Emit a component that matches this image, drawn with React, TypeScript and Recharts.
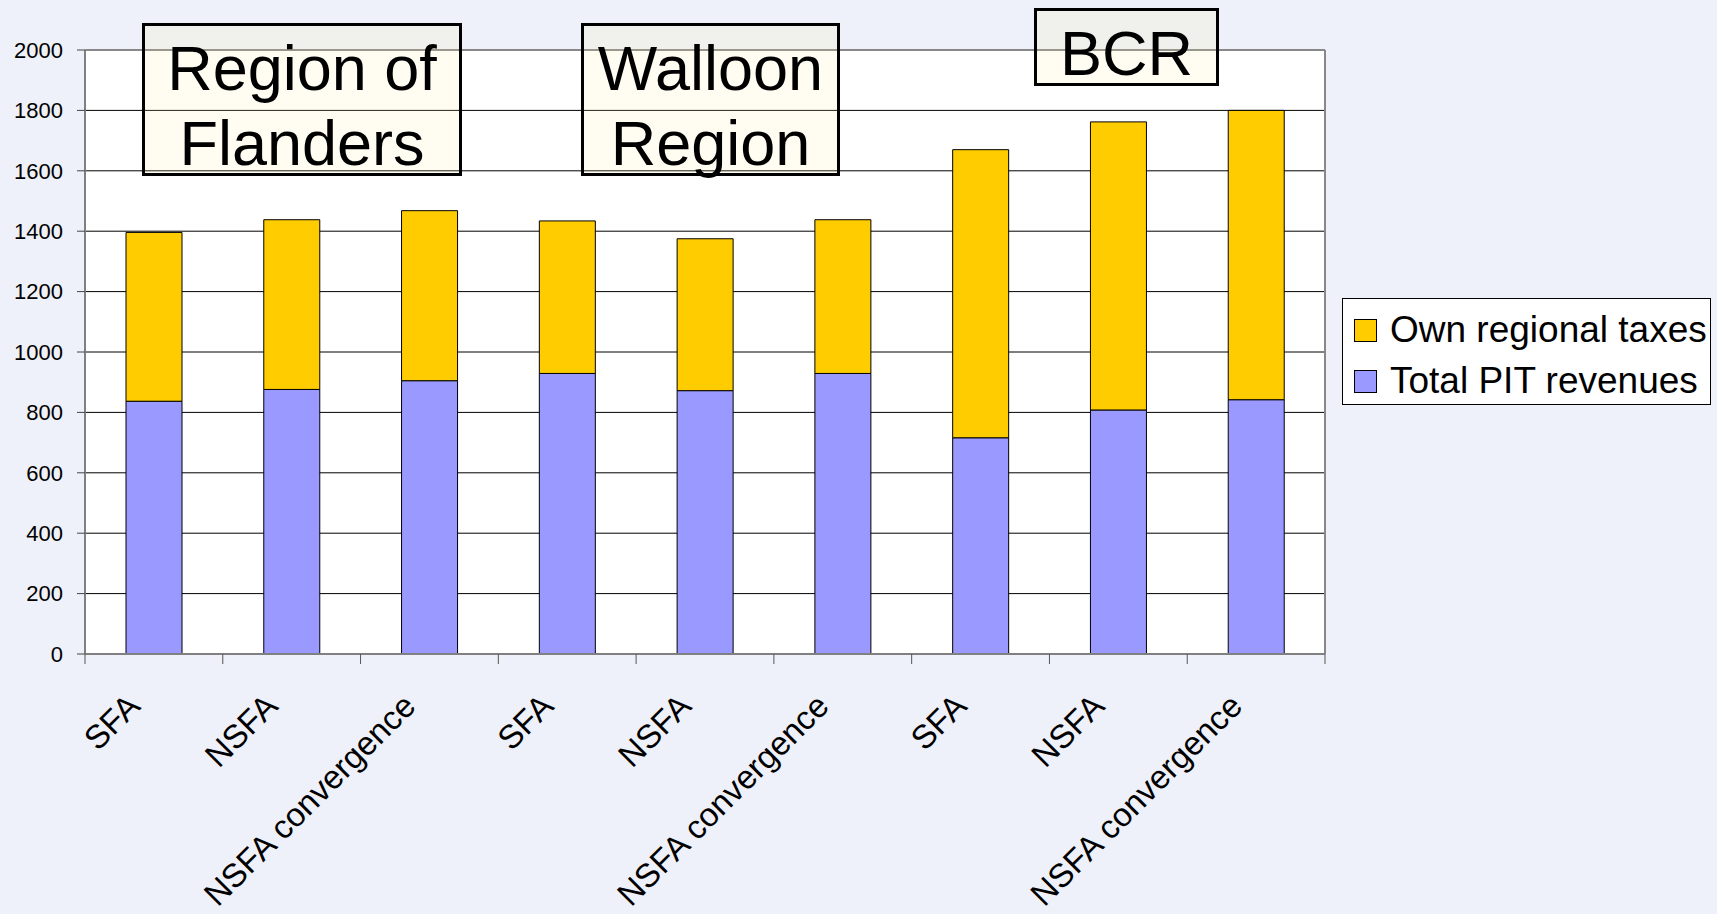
import { Bar, BarChart, CartesianGrid, Legend, ReferenceLine, XAxis, YAxis } from "recharts";

const categories = [
  "SFA", "NSFA", "NSFA convergence",
  "SFA", "NSFA", "NSFA convergence",
  "SFA", "NSFA", "NSFA convergence",
];
const totalPitRevenues = [837, 876, 905, 929, 872, 929, 716, 808, 842];
const ownRegionalTaxes = [559, 562, 563, 505, 503, 509, 954, 954, 958];
const yTicks = [0, 200, 400, 600, 800, 1000, 1200, 1400, 1600, 1800, 2000];
const legendOrder = ["Own regional taxes", "Total PIT revenues"];

const regionLabels = [
  { lines: ["Region of", "Flanders"], left: 142, top: 23, width: 320, height: 153 },
  { lines: ["Walloon", "Region"], left: 581, top: 23, width: 259, height: 153 },
  { lines: ["BCR"], left: 1034, top: 8, width: 185, height: 78 },
];

const FONT = '"Liberation Sans", Arial, sans-serif';
const BLUE = "#9999FF";
const GOLD = "#FFCC00";

const data = categories.map((name, i) => ({
  idx: i,
  name,
  pit: totalPitRevenues[i],
  own: ownRegionalTaxes[i],
}));

function XTick({ x, y, payload, index, visibleTicksCount }: any) {
  const half = payload && payload.offset ? payload.offset : 1240 / 18;
  const tx = x - 12;
  const ty = y + 54;
  const last = index === (visibleTicksCount ?? categories.length) - 1;
  return (
    <g>
      <line x1={x - half} x2={x - half} y1={y} y2={y + 10} stroke="#555" />
      {last && <line x1={x + half} x2={x + half} y1={y} y2={y + 10} stroke="#555" />}
      <text
        x={tx}
        y={ty}
        transform={`rotate(-45, ${tx}, ${ty})`}
        textAnchor="end"
        fontSize={33}
        fontFamily={FONT}
        fill="#000"
      >
        {payload.value}
      </text>
    </g>
  );
}

function LegendBox({ payload }: any) {
  const items = [...(payload || [])].sort(
    (a: any, b: any) => legendOrder.indexOf(a.value) - legendOrder.indexOf(b.value)
  );
  return (
    <div
      style={{
        border: "1px solid #000",
        background: "#fff",
        width: 369,
        height: 107,
        boxSizing: "border-box",
        paddingTop: 9,
        fontFamily: FONT,
      }}
    >
      {items.map((item: any) => (
        <div key={item.value} style={{ display: "flex", alignItems: "center", height: 44, marginBottom: 7 }}>
          <span
            style={{
              display: "inline-block",
              width: 23,
              height: 23,
              marginLeft: 11,
              marginRight: 13,
              background: item.color,
              border: "1px solid #000",
              boxSizing: "border-box",
            }}
          />
          <span style={{ fontSize: 37, color: "#000", lineHeight: "44px" }}>{item.value}</span>
        </div>
      ))}
    </div>
  );
}

export default function App() {
  return (
    <div style={{ position: "relative", width: 1717, height: 914, background: "#EEF1F9", overflow: "hidden" }}>
      <style>{"body{margin:0}"}</style>
      <BarChart
        width={1717}
        height={914}
        data={data}
        margin={{ top: 50, right: 392, bottom: 0, left: 0 }}
        barSize={56}
      >
        <CartesianGrid vertical={false} stroke="#000" fill="#fff" />
        <XAxis xAxisId="edges" type="number" dataKey="idx" domain={[0, 9]} hide />
        <XAxis
          dataKey="name"
          interval={0}
          tick={<XTick />}
          tickLine={false}
          tickSize={0}
          tickMargin={0}
          axisLine={{ stroke: "#808080", strokeWidth: 2 }}
          height={260}
        />
        <YAxis
          domain={[0, 2000]}
          ticks={yTicks}
          interval={0}
          width={85}
          tickSize={8}
          tickMargin={14}
          axisLine={{ stroke: "#808080", strokeWidth: 2 }}
          tickLine={{ stroke: "#444" }}
          tick={{ fontSize: 22, fill: "#000", fontFamily: FONT }}
        />
        <ReferenceLine y={2000} stroke="#888" strokeWidth={2} />
        <ReferenceLine xAxisId="edges" x={9} stroke="#888" strokeWidth={2} />
        <Bar
          dataKey="pit"
          name="Total PIT revenues"
          stackId="a"
          fill={BLUE}
          stroke="#000"
          strokeWidth={1}
          isAnimationActive={false}
        />
        <Bar
          dataKey="own"
          name="Own regional taxes"
          stackId="a"
          fill={GOLD}
          stroke="#000"
          strokeWidth={1}
          isAnimationActive={false}
        />
        <Legend
          layout="horizontal"
          verticalAlign="middle"
          align="center"
          content={<LegendBox />}
          wrapperStyle={{ position: "absolute", left: 1342, top: 298, width: 369, height: 107 }}
        />
      </BarChart>
      {regionLabels.map((r) => (
        <div
          key={r.lines.join(" ")}
          style={{
            position: "absolute",
            left: r.left,
            top: r.top,
            width: r.width,
            height: r.height,
            border: "3px solid #000",
            boxSizing: "border-box",
            background: "rgba(255, 236, 170, 0.15)",
            fontFamily: FONT,
            fontSize: 63,
            lineHeight: "75px",
            textAlign: "center",
            color: "#000",
            paddingTop: 5,
          }}
        >
          {r.lines.map((l) => (
            <div key={l}>{l}</div>
          ))}
        </div>
      ))}
    </div>
  );
}
